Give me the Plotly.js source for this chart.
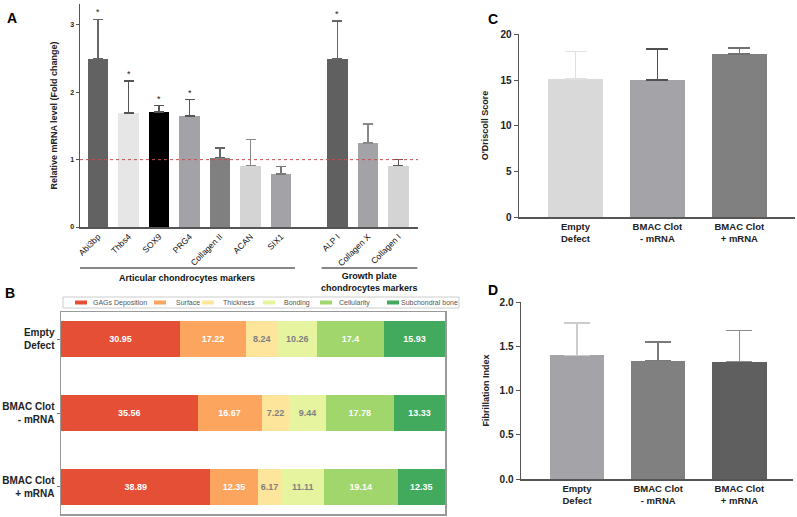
<!DOCTYPE html>
<html><head><meta charset="utf-8">
<script src="https://cdn.plot.ly/plotly-3.0.1.min.js"></script>
<style>html,body{margin:0;padding:0;background:#fff}#chart{width:797px;height:517px}</style>
</head><body><div id="chart"></div>
<script>
// ---------- Panel A data ----------
const genes = ["Abi3bp","Thbs4","SOX9","PRG4","Collagen II","ACAN","SIX1","ALP I","Collagen X","Collagen I"];
const foldChange = [2.49,1.69,1.71,1.65,1.03,0.91,0.79,2.49,1.25,0.91];
const foldErrTop = [3.08,2.17,1.80,1.89,1.17,1.30,0.90,3.06,1.53,1.00];
const significant = [true,true,true,true,false,false,false,true,false,false];
const geneColors = ["#626262","#e6e6e6","#000000","#a2a2a7","#808080","#d4d4d4","#a2a2a7","#606060","#a2a2a7","#d4d4d4"];
const geneErrColors = ["#666666","#555555","#555555","#555555","#666666","#888888","#777777","#666666","#888888","#555555"];
const groupNames = ["Articular chondrocytes markers","Growth plate<br>chondrocytes markers"];
const articularCount = 7;

// ---------- Panel B data ----------
const groups = ["Empty<br>Defect","BMAC Clot<br>- mRNA","BMAC Clot<br>+ mRNA"];
const components = ["GAGs Deposition","Surface","Thickness","Bonding","Cellularity","Subchondral bone"];
const gags = [30.95,35.56,38.89];
const surface = [17.22,16.67,12.35];
const thickness = [8.24,7.22,6.17];
const bonding = [10.26,9.44,11.11];
const cellularity = [17.4,17.78,19.14];
const subchondral = [15.93,13.33,12.35];
const compColors = ["#e44f35","#fba55f","#fde59c","#e6f4a0","#a0d66b","#41aa5c"];
const compTextColors = ["#ffffff","#ffffff","#808080","#808080","#ffffff","#ffffff"];

// ---------- Panel C data ----------
const oDriscoll = [15.14,15.03,17.88];
const oDriscollErrTop = [18.14,18.43,18.50];
const cColors = ["#d9d9d9","#a3a3a8","#808080"];
const cErrColors = ["#e0e0e0","#505050","#707070"];

// ---------- Panel D data ----------
const fibrillation = [1.40,1.34,1.33];
const fibrillationErrTop = [1.767,1.55,1.685];
const dColors = ["#a3a3a8","#808080","#5f5f5f"];
const dErrColors = ["#cccccc","#7a7a7a","#8c8c8c"];

const W = 797, H = 517;
const px = v => v / W;
const py = v => 1 - v / H;
const FONT = "Liberation Sans, Arial, sans-serif";

const traces = [];
const annotations = [];
const shapes = [];

// Panel A bars (positions with gap between groups)
const gapExtra = 0.85;
const posA = genes.map((g, i) => i < articularCount ? i : i + gapExtra);
genes.forEach((g, i) => {
  traces.push({
    type: "bar", x: [posA[i]], y: [foldChange[i]], width: 0.66, name: g,
    marker: {color: geneColors[i]}, xaxis: "x", yaxis: "y", showlegend: false,
    error_y: {type: "data", symmetric: false, array: [foldErrTop[i] - foldChange[i]], arrayminus: [0],
              color: geneErrColors[i], thickness: 1.5, width: 5}
  });
  if (significant[i]) {
    annotations.push({x: posA[i], y: foldErrTop[i], xref: "x", yref: "y", text: "*", showarrow: false,
      yanchor: "bottom", yshift: 0, font: {family: FONT, size: 9, color: "#222"}});
  }
});
// reference dotted line at 1
shapes.push({type: "line", xref: "x domain", yref: "y", x0: 0, x1: 1, y0: 1, y1: 1,
  line: {color: "#c0504d", width: 1, dash: "dot"}});
// group underline shapes
const artStart = posA[0] - 0.6, artEnd = posA[articularCount - 1] + 0.46;
const grStart = posA[articularCount] - 0.52, grEnd = posA[genes.length - 1] + 0.62;
shapes.push({type: "line", xref: "x", yref: "paper", x0: artStart, x1: artEnd, y0: py(268), y1: py(268), line: {color: "#111", width: 1.2}});
shapes.push({type: "line", xref: "x", yref: "paper", x0: grStart, x1: grEnd, y0: py(268), y1: py(268), line: {color: "#111", width: 1.2}});
annotations.push({x: (artStart + artEnd) / 2, y: py(271), xref: "x", yref: "paper", text: "<b>" + groupNames[0] + "</b>",
  showarrow: false, yanchor: "top", font: {family: FONT, size: 9, color: "#111"}});
annotations.push({x: (grStart + grEnd) / 2, y: py(269), xref: "x", yref: "paper", text: "<b>" + groupNames[1] + "</b>",
  showarrow: false, yanchor: "top", font: {family: FONT, size: 9, color: "#111"}});

// Panel B stacked bars
const compValues = [gags, surface, thickness, bonding, cellularity, subchondral];
components.forEach((c, k) => {
  traces.push({
    type: "bar", orientation: "h", y: groups, x: compValues[k], width: 0.49, name: c,
    marker: {color: compColors[k]}, xaxis: "x2", yaxis: "y2", showlegend: false,
    text: compValues[k].map(String), textposition: "inside", insidetextanchor: "middle",
    textfont: {family: FONT, size: 9, color: compTextColors[k], weight: "bold"}
  });
});
// Panel B compact legend (box + swatches + labels)
const legSwatchX = [75, 154, 202, 263, 320, 387];
const legTextX = [91, 174, 221, 282, 337, 399];
shapes.push({type: "rect", xref: "paper", yref: "paper", x0: px(63), x1: px(459), y0: py(308), y1: py(297),
  line: {color: "#cccccc", width: 1}, fillcolor: "#ffffff"});
components.forEach((c, k) => {
  shapes.push({type: "rect", xref: "paper", yref: "paper", x0: px(legSwatchX[k]), x1: px(legSwatchX[k] + 12),
    y0: py(304.5), y1: py(300.5), line: {width: 0}, fillcolor: compColors[k]});
  annotations.push({x: px(legTextX[k]), y: py(302.5), xref: "paper", yref: "paper", text: c, showarrow: false,
    xanchor: "left", yanchor: "middle", font: {family: FONT, size: 7, color: "#555"}});
});

// Panel C bars
groups.forEach((g, i) => {
  traces.push({
    type: "bar", x: [g], y: [oDriscoll[i]], width: 0.67, marker: {color: cColors[i]},
    xaxis: "x3", yaxis: "y3", showlegend: false,
    error_y: {type: "data", symmetric: false, array: [oDriscollErrTop[i] - oDriscoll[i]], arrayminus: [0],
              color: cErrColors[i], thickness: 1.5, width: 11}
  });
});
// Panel D bars
groups.forEach((g, i) => {
  traces.push({
    type: "bar", x: [g], y: [fibrillation[i]], width: 0.67, marker: {color: dColors[i]},
    xaxis: "x4", yaxis: "y4", showlegend: false,
    error_y: {type: "data", symmetric: false, array: [fibrillationErrTop[i] - fibrillation[i]], arrayminus: [0],
              color: dErrColors[i], thickness: 1.5, width: 13}
  });
});

// Panel letters
[["A", 12, 18], ["B", 10, 293], ["C", 493, 19], ["D", 493, 290]].forEach(([t, x, y]) => {
  annotations.push({x: px(x), y: py(y), xref: "paper", yref: "paper", text: "<b>" + t + "</b>", showarrow: false,
    xanchor: "center", yanchor: "middle", font: {family: FONT, size: 14, color: "#000"}});
});

const axCommon = {showgrid: false, zeroline: false, showline: true, linecolor: "#555", linewidth: 1.5,
  tickfont: {family: FONT, color: "#222"}};

const layout = {
  width: W, height: H, margin: {l: 0, r: 0, t: 0, b: 0},
  paper_bgcolor: "#fff", plot_bgcolor: "rgba(0,0,0,0)",
  barmode: "stack", font: {family: FONT, color: "#222"}, showlegend: false,
  uniformtext: {mode: "show", minsize: 8},
  xaxis: Object.assign({}, axCommon, {domain: [px(80), px(418)], range: [-0.59, posA[posA.length - 1] + 0.64],
    tickvals: posA, ticktext: genes, tickangle: -45, ticks: "", tickfont: {family: FONT, size: 8.5, color: "#111"}}),
  yaxis: Object.assign({}, axCommon, {domain: [py(227), py(4)], range: [0, 3.31], tickvals: [0, 1, 2, 3],
    ticks: "outside", ticklen: 3, tickcolor: "#555", tickfont: {family: FONT, size: 7, color: "#222", weight: "bold"},
    title: {text: "Relative mRNA level (Fold change)", standoff: 11, font: {family: FONT, size: 9, color: "#222", weight: "bold"}}}),
  xaxis2: {domain: [px(61), px(445)], range: [0, 100], showgrid: false, zeroline: false, showticklabels: false,
    showline: true, mirror: true, linecolor: "#999", linewidth: 1.5, anchor: "y2"},
  yaxis2: {domain: [py(514), py(312)], type: "category", range: [2.365, -0.365], showgrid: false, zeroline: false,
    showline: true, mirror: true, linecolor: "#999", linewidth: 1.5, anchor: "x2",
    ticks: "outside", ticklen: 3, tickcolor: "#777",
    tickfont: {family: FONT, size: 10, color: "#222", weight: "bold"}},
  xaxis3: Object.assign({}, axCommon, {domain: [px(519), px(795)], range: [-0.69, 2.68], anchor: "y3", ticks: "",
    tickfont: {family: FONT, size: 9.5, color: "#222", weight: "bold"}}),
  yaxis3: Object.assign({}, axCommon, {domain: [py(217), py(34)], range: [0, 20.05], anchor: "x3", tickvals: [0, 5, 10, 15, 20],
    ticks: "outside", ticklen: 4, tickcolor: "#555", tickfont: {family: FONT, size: 10, color: "#222", weight: "bold"},
    title: {text: "O'Driscoll Score", standoff: 10, font: {family: FONT, size: 9, color: "#222", weight: "bold"}}}),
  xaxis4: Object.assign({}, axCommon, {domain: [px(521), px(793)], range: [-0.69, 2.66], anchor: "y4", ticks: "",
    tickfont: {family: FONT, size: 9.5, color: "#222", weight: "bold"}}),
  yaxis4: Object.assign({}, axCommon, {domain: [py(479), py(302)], range: [0, 2.005], anchor: "x4", tickvals: [0, 0.5, 1, 1.5, 2],
    tickformat: ".1f", ticks: "outside", ticklen: 4, tickcolor: "#555", tickfont: {family: FONT, size: 10, color: "#222", weight: "bold"},
    title: {text: "Fibrillation Index", standoff: 8, font: {family: FONT, size: 9, color: "#222", weight: "bold"}}}),
  annotations: annotations, shapes: shapes
};

Plotly.newPlot("chart", traces, layout, {displayModeBar: false, staticPlot: true});
</script></body></html>
